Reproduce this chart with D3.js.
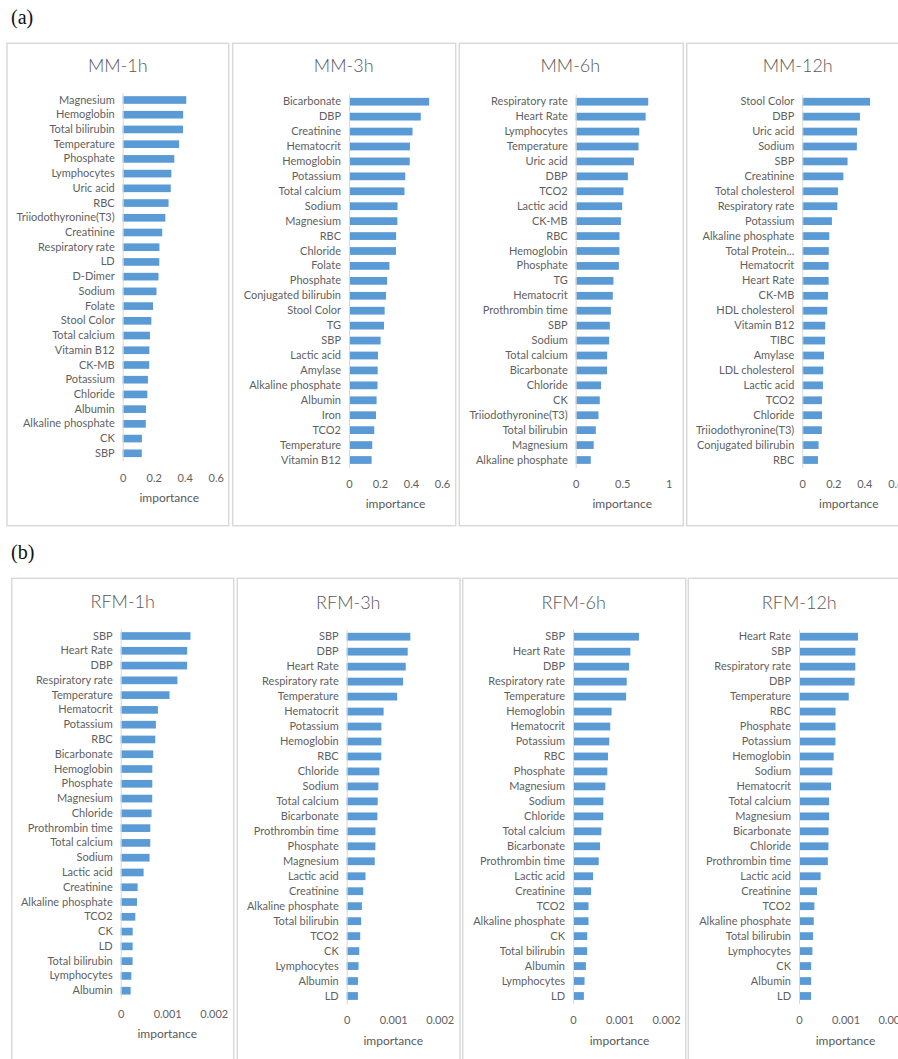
<!DOCTYPE html>
<html>
<head>
<meta charset="utf-8">
<script src="https://cdn.jsdelivr.net/npm/d3@7"></script>
<style>
  html, body { margin: 0; padding: 0; background: #fff; overflow: hidden; }
  svg { display: block; }
</style>
</head>
<body>
<svg id="chart" width="898" height="1059"></svg>
<script>
// ---- Feature importance, mortality model (MM) ----
const mm1hLabels = ["Magnesium","Hemoglobin","Total bilirubin","Temperature","Phosphate","Lymphocytes","Uric acid","RBC","Triiodothyronine(T3)","Creatinine","Respiratory rate","LD","D-Dimer","Sodium","Folate","Stool Color","Total calcium","Vitamin B12","CK-MB","Potassium","Chloride","Albumin","Alkaline phosphate","CK","SBP"];
const mm1hValues = [0.410,0.390,0.389,0.364,0.333,0.314,0.310,0.296,0.275,0.255,0.237,0.236,0.231,0.218,0.196,0.185,0.176,0.172,0.171,0.163,0.159,0.150,0.149,0.124,0.123];

const mm3hLabels = ["Bicarbonate","DBP","Creatinine","Hematocrit","Hemoglobin","Potassium","Total calcium","Sodium","Magnesium","RBC","Chloride","Folate","Phosphate","Conjugated bilirubin","Stool Color","TG","SBP","Lactic acid","Amylase","Alkaline phosphate","Albumin","Iron","TCO2","Temperature","Vitamin B12"];
const mm3hValues = [0.517,0.463,0.410,0.393,0.392,0.363,0.358,0.313,0.312,0.304,0.303,0.261,0.246,0.239,0.230,0.226,0.204,0.187,0.185,0.184,0.178,0.174,0.163,0.150,0.146];

const mm6hLabels = ["Respiratory rate","Heart Rate","Lymphocytes","Temperature","Uric acid","DBP","TCO2","Lactic acid","CK-MB","RBC","Hemoglobin","Phosphate","TG","Hematocrit","Prothrombin time","SBP","Sodium","Total calcium","Bicarbonate","Chloride","CK","Triiodothyronine(T3)","Total bilirubin","Magnesium","Alkaline phosphate"];
const mm6hValues = [0.780,0.752,0.683,0.676,0.626,0.561,0.514,0.500,0.486,0.471,0.470,0.464,0.406,0.399,0.378,0.367,0.360,0.338,0.337,0.273,0.259,0.245,0.216,0.194,0.162];

const mm12hLabels = ["Stool Color","DBP","Uric acid","Sodium","SBP","Creatinine","Total cholesterol","Respiratory rate","Potassium","Alkaline phosphate","Total Protein...","Hematocrit","Heart Rate","CK-MB","HDL cholesterol","Vitamin B12","TIBC","Amylase","LDL cholesterol","Lactic acid","TCO2","Chloride","Triiodothyronine(T3)","Conjugated bilirubin","RBC"];
const mm12hValues = [0.437,0.372,0.353,0.352,0.292,0.265,0.230,0.226,0.191,0.174,0.171,0.170,0.170,0.166,0.161,0.148,0.147,0.140,0.135,0.133,0.127,0.127,0.126,0.105,0.101];

// ---- Feature importance, RFM ----
const rfm1hLabels = ["SBP","Heart Rate","DBP","Respiratory rate","Temperature","Hematocrit","Potassium","RBC","Bicarbonate","Hemoglobin","Phosphate","Magnesium","Chloride","Prothrombin time","Total calcium","Sodium","Lactic acid","Creatinine","Alkaline phosphate","TCO2","CK","LD","Total bilirubin","Lymphocytes","Albumin"];
const rfm1hValues = [0.001500,0.001430,0.001428,0.001220,0.001050,0.000800,0.000757,0.000743,0.000700,0.000680,0.000679,0.000678,0.000664,0.000637,0.000636,0.000621,0.000493,0.000364,0.000350,0.000314,0.000258,0.000257,0.000256,0.000229,0.000214];

const rfm3hLabels = ["SBP","DBP","Heart Rate","Respiratory rate","Temperature","Hematocrit","Potassium","Hemoglobin","RBC","Chloride","Sodium","Total calcium","Bicarbonate","Prothrombin time","Phosphate","Magnesium","Lactic acid","Creatinine","Alkaline phosphate","Total bilirubin","TCO2","CK","Lymphocytes","Albumin","LD"];
const rfm3hValues = [0.001369,0.001312,0.001270,0.001213,0.001085,0.000794,0.000746,0.000745,0.000744,0.000702,0.000681,0.000667,0.000660,0.000618,0.000617,0.000603,0.000404,0.000355,0.000326,0.000312,0.000291,0.000270,0.000255,0.000242,0.000241];

const rfm6hLabels = ["SBP","Heart Rate","DBP","Respiratory rate","Temperature","Hemoglobin","Hematocrit","Potassium","RBC","Phosphate","Magnesium","Sodium","Chloride","Total calcium","Bicarbonate","Prothrombin time","Lactic acid","Creatinine","TCO2","Alkaline phosphate","CK","Total bilirubin","Albumin","Lymphocytes","LD"];
const rfm6hValues = [0.001418,0.001234,0.001206,0.001156,0.001142,0.000830,0.000801,0.000780,0.000752,0.000738,0.000695,0.000653,0.000652,0.000610,0.000582,0.000553,0.000433,0.000390,0.000334,0.000333,0.000306,0.000305,0.000277,0.000248,0.000234];

const rfm12hLabels = ["Heart Rate","SBP","Respiratory rate","DBP","Temperature","RBC","Phosphate","Potassium","Hemoglobin","Sodium","Hematocrit","Total calcium","Magnesium","Bicarbonate","Chloride","Prothrombin time","Lactic acid","Creatinine","TCO2","Alkaline phosphate","Total bilirubin","Lymphocytes","CK","Albumin","LD"];
const rfm12hValues = [0.001268,0.001212,0.001211,0.001197,0.001070,0.000786,0.000785,0.000784,0.000746,0.000718,0.000690,0.000649,0.000648,0.000635,0.000634,0.000620,0.000465,0.000387,0.000331,0.000317,0.000303,0.000289,0.000262,0.000261,0.000260];

// ---- Axis ticks ----
const mmTicks = [0, 0.2, 0.4, 0.6];
const mm6hTicks = [0, 0.5, 1];
const rfmTicks = [0, 0.001, 0.002];

const panelTitles = ["MM-1h","MM-3h","MM-6h","MM-12h","RFM-1h","RFM-3h","RFM-6h","RFM-12h"];
const groupLabels = ["(a)", "(b)"];

// ---- Panel geometry ----
const panels = [
  { title: panelTitles[0], labels: mm1hLabels, values: mm1hValues, ticks: mmTicks, max: 0.6,
    box: [7, 43.3, 228.7, 525.7], zero: 122.7, first: 100, last: 453.3, tickY: 477.3, axTitleY: 497, titleY: 65 },
  { title: panelTitles[1], labels: mm3hLabels, values: mm3hValues, ticks: mmTicks, max: 0.6,
    box: [232.7, 43.3, 455.7, 525.7], zero: 349, first: 101.7, last: 460, tickY: 483, axTitleY: 503, titleY: 65 },
  { title: panelTitles[2], labels: mm6hLabels, values: mm6hValues, ticks: mm6hTicks, max: 1,
    box: [459.3, 43.3, 683.3, 525.7], zero: 575.7, first: 101.7, last: 460, tickY: 483, axTitleY: 503, titleY: 65 },
  { title: panelTitles[3], labels: mm12hLabels, values: mm12hValues, ticks: mmTicks, max: 0.6,
    box: [686.7, 43.3, 920, 525.7], zero: 802.3, first: 101.7, last: 460, tickY: 483, axTitleY: 503, titleY: 65 },
  { title: panelTitles[4], labels: rfm1hLabels, values: rfm1hValues, ticks: rfmTicks, max: 0.002,
    box: [11.7, 578.3, 233.7, 1070], zero: 120.7, first: 636, last: 990.7, tickY: 1013.3, axTitleY: 1033, titleY: 600.7 },
  { title: panelTitles[5], labels: rfm3hLabels, values: rfm3hValues, ticks: rfmTicks, max: 0.002,
    box: [237.3, 578.3, 460, 1070], zero: 346.7, first: 636.7, last: 996, tickY: 1019.3, axTitleY: 1040, titleY: 601.7 },
  { title: panelTitles[6], labels: rfm6hLabels, values: rfm6hValues, ticks: rfmTicks, max: 0.002,
    box: [462.7, 578.3, 685.7, 1070], zero: 573, first: 636.7, last: 996, tickY: 1019.3, axTitleY: 1040, titleY: 601.7 },
  { title: panelTitles[7], labels: rfm12hLabels, values: rfm12hValues, ticks: rfmTicks, max: 0.002,
    box: [688.3, 578.3, 920, 1070], zero: 799, first: 636.7, last: 996, tickY: 1019.3, axTitleY: 1040, titleY: 601.7 }
];

const plotWidth = 93;
const barColor = "#5b9bd5";
const textColor = "#595959";
const font = "Lato, 'Open Sans', sans-serif";

const svg = d3.select("#chart");

// group labels (a) and (b)
svg.append("text").attr("x", 11).attr("y", 24)
  .attr("font-family", "'Liberation Serif', 'Times New Roman', serif")
  .attr("font-size", 20).attr("fill", "#111").text(groupLabels[0]);
svg.append("text").attr("x", 11).attr("y", 559)
  .attr("font-family", "'Liberation Serif', 'Times New Roman', serif")
  .attr("font-size", 20).attr("fill", "#111").text(groupLabels[1]);

panels.forEach(p => {
  const g = svg.append("g");
  const [x0, y0, x1, y1] = p.box;

  // frame
  g.append("rect")
    .attr("x", x0).attr("y", y0)
    .attr("width", x1 - x0).attr("height", y1 - y0)
    .attr("fill", "#fff").attr("stroke", "#d9d9d9").attr("stroke-width", 1.5);

  // title
  g.append("text")
    .attr("x", (x0 + Math.min(x1, x0 + 222)) / 2).attr("y", p.titleY)
    .attr("text-anchor", "middle").attr("dominant-baseline", "central")
    .attr("font-family", font).attr("font-size", 18).attr("font-weight", 300)
    .attr("fill", textColor)
    .text(p.title);

  const n = p.labels.length;
  const step = (p.last - p.first) / (n - 1);
  const pad = 0.48;
  const y = d3.scaleBand()
    .domain(p.labels)
    .range([p.first - step / 2, p.last + step / 2])
    .paddingInner(pad).paddingOuter(pad / 2);

  const x = d3.scaleLinear().domain([0, p.max]).range([p.zero, p.zero + plotWidth]);

  // bars
  g.selectAll("rect.bar")
    .data(p.labels.map((l, i) => ({ label: l, value: p.values[i] })))
    .join("rect")
    .attr("class", "bar")
    .attr("x", x(0))
    .attr("y", d => y(d.label))
    .attr("width", d => x(d.value) - x(0))
    .attr("height", y.bandwidth())
    .attr("fill", barColor);

  // category axis
  const yAxis = d3.axisLeft(y).tickSize(0).tickPadding(8);
  const ya = g.append("g").attr("transform", `translate(${x(0)},0)`).call(yAxis);
  ya.select(".domain").attr("stroke", "#d9d9d9").attr("stroke-width", 1);
  ya.selectAll("text").attr("font-family", font).attr("font-size", 11).attr("fill", "#5f5f5f");

  // value axis (labels only)
  const xAxis = d3.axisBottom(x).tickValues(p.ticks).tickSize(0).tickPadding(0)
    .tickFormat(d => String(d));
  const xa = g.append("g").attr("transform", `translate(0,${p.tickY})`).call(xAxis);
  xa.select(".domain").remove();
  xa.selectAll("text")
    .attr("dy", null).attr("y", 0)
    .attr("dominant-baseline", "central")
    .attr("font-family", font).attr("font-size", 11).attr("fill", "#5f5f5f");

  // axis title
  g.append("text")
    .attr("x", x(0) + plotWidth / 2).attr("y", p.axTitleY)
    .attr("text-anchor", "middle").attr("dominant-baseline", "central")
    .attr("font-family", font).attr("font-size", 12).attr("fill", textColor)
    .text("importance");
});
</script>
</body>
</html>
